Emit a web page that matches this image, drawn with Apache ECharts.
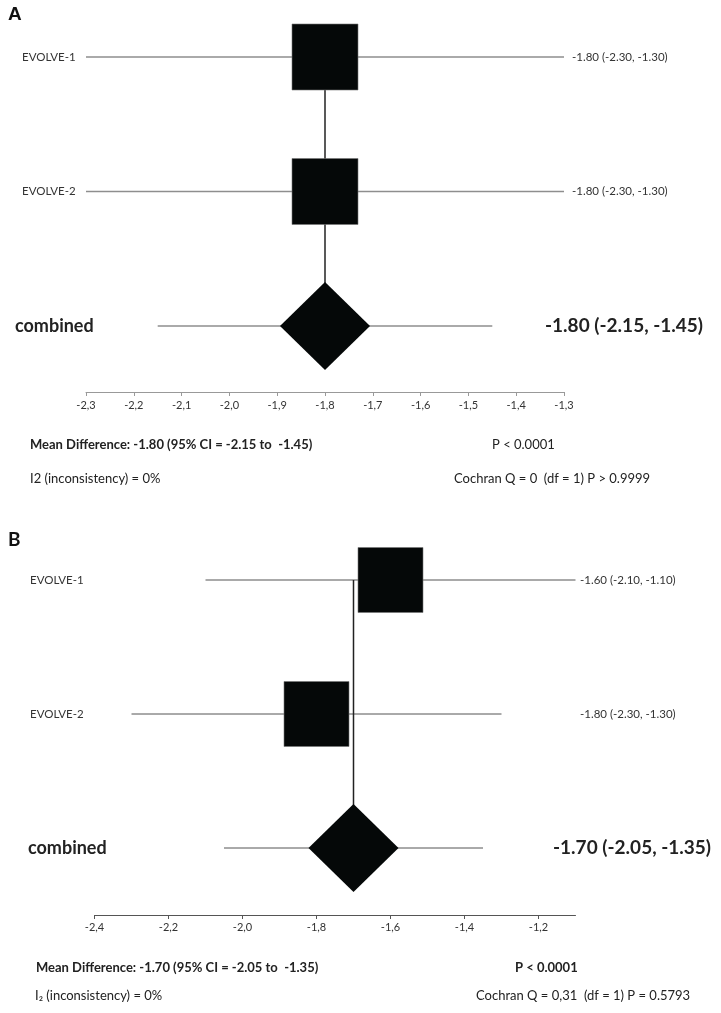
<!DOCTYPE html>
<html><head><meta charset="utf-8">
<script src="https://cdn.jsdelivr.net/npm/echarts@6/dist/echarts.min.js"></script>
<style>html,body{margin:0;padding:0;background:#fff}#c{width:721px;height:1013px}</style>
</head><body><div id="c"></div>
<script>
// ---- data ----
const studies = ['EVOLVE-1', 'EVOLVE-2', 'combined'];
const estA  = [-1.80, -1.80, -1.80];
const lowA  = [-2.30, -2.30, -2.15];
const highA = [-1.30, -1.30, -1.45];
const estB  = [-1.60, -1.80, -1.70];
const lowB  = [-2.10, -2.30, -2.05];
const highB = [-1.10, -1.30, -1.35];
const ticksA = [-2.3, -2.2, -2.1, -2.0, -1.9, -1.8, -1.7, -1.6, -1.5, -1.4, -1.3];
const ticksB = [-2.4, -2.2, -2.0, -1.8, -1.6, -1.4, -1.2];
const footA = ['Mean Difference: -1.80 (95% CI = -2.15 to  -1.45)', 'P < 0.0001', 'I2 (inconsistency) = 0%', 'Cochran Q = 0  (df = 1) P > 0.9999'];
const footB = ['Mean Difference: -1.70 (95% CI = -2.05 to  -1.35)', 'P < 0.0001', 'I\u2082 (inconsistency) = 0%', 'Cochran Q = 0,31  (df = 1) P = 0.5793'];

const FONT = 'Lato, "Open Sans", sans-serif';
const fmt = v => v.toFixed(2);
const tickFmt = v => v.toFixed(1).replace('.', ',');

function rowsSeries(idx, est, low, high, st) {
  return {
    type: 'custom', xAxisIndex: idx, yAxisIndex: idx, z: 1, clip: false, silent: true,
    data: studies.map((s, i) => [i, est[i], low[i], high[i]]),
    encode: { x: [1, 2, 3], y: 0 },
    renderItem(params, api) {
      const i = api.value(0);
      const p1 = api.coord([api.value(2), i]);
      const p2 = api.coord([api.value(3), i]);
      const comb = i === studies.length - 1;
      const label = fmt(api.value(1)) + ' (' + fmt(api.value(2)) + ', ' + fmt(api.value(3)) + ')';
      return {
        type: 'group',
        children: [
          { type: 'line', shape: { x1: p1[0], y1: p1[1], x2: p2[0], y2: p2[1] },
            style: { stroke: st.ci, lineWidth: st.ciW } },
          { type: 'text', x: comb ? st.combX : st.nameX, y: p1[1],
            style: { text: studies[i], fill: comb ? '#222' : '#333', verticalAlign: 'middle', align: 'left',
                     font: (comb ? 'bold 18px ' : '11.5px ') + FONT } },
          { type: 'text', x: comb ? st.combRX : st.rightX, y: p1[1],
            style: { text: label, fill: comb ? '#222' : '#333', verticalAlign: 'middle', align: 'left',
                     font: (comb ? 'bold 19px ' : '11.5px ') + FONT } }
        ]
      };
    }
  };
}

function markSeries(idx, est, sq) {
  const n = studies.length - 1;
  return [
    { type: 'line', xAxisIndex: idx, yAxisIndex: idx, z: 2, silent: true, showSymbol: false,
      data: [[est[n], 0], [est[n], n]], lineStyle: { color: '#222', width: 1.5 } },
    { type: 'scatter', xAxisIndex: idx, yAxisIndex: idx, z: 3, silent: true, symbol: 'rect', symbolSize: sq,
      data: est.slice(0, n).map((v, i) => [v, i]),
      itemStyle: { color: '#050808', opacity: 1, borderColor: '#777', borderWidth: 0.6 } },
    { type: 'scatter', xAxisIndex: idx, yAxisIndex: idx, z: 3, silent: true, symbol: 'diamond', symbolSize: [90, 88],
      data: [[est[n], n]], itemStyle: { color: '#050808', opacity: 1 } }
  ];
}

function xAx(idx, min, max, ticks, off, col, margin) {
  return {
    type: 'value', gridIndex: idx, min, max, offset: off,
    axisLine: { show: true, onZero: false, lineStyle: { color: col, width: 1 } },
    axisTick: { show: true, length: 4, customValues: ticks, lineStyle: { color: col } },
    axisLabel: { customValues: ticks, formatter: tickFmt, fontSize: 11, color: '#333', fontFamily: FONT, margin },
    splitLine: { show: false }
  };
}
function yAx(idx) {
  return { type: 'value', gridIndex: idx, min: 0, max: studies.length - 1, inverse: true, show: false };
}

function txt(left, top, text, bold, size) {
  return { type: 'text', left, top, silent: true,
    style: { text, fill: '#222', font: (bold ? 'bold ' : '') + (size || 13) + 'px ' + FONT } };
}

const chart = echarts.init(document.getElementById('c'), null, { renderer: 'canvas' });
chart.setOption({
  animation: false,
  backgroundColor: '#fff',
  grid: [
    { left: 86, width: 478, top: 57, height: 269 },
    { left: 94.5, width: 481, top: 580, height: 268 }
  ],
  xAxis: [xAx(0, -2.3, -1.3, ticksA, 66, '#999', 8), xAx(1, -2.4, -1.1, ticksB, 67, '#555', 7)],
  yAxis: [yAx(0), yAx(1)],
  series: [
    rowsSeries(0, estA, lowA, highA, { ci: '#8e8e8e', ciW: 1.3, nameX: 22, combX: 15, rightX: 572, combRX: 545 }),
    ...markSeries(0, estA, 66),
    rowsSeries(1, estB, lowB, highB, { ci: '#555', ciW: 1, nameX: 30, combX: 28, rightX: 580, combRX: 553 }),
    ...markSeries(1, estB, 65)
  ],
  graphic: [
    { type: 'text', left: 8, top: 5, style: { text: 'A', fill: '#111', font: 'bold 19px "Liberation Sans", Arial, sans-serif' } },
    { type: 'text', left: 8, top: 530, style: { text: 'B', fill: '#111', font: 'bold 19px ' + FONT } },
    txt(30, 438, footA[0], true), txt(492, 438, footA[1], false),
    txt(30, 472, footA[2], false), txt(454, 472, footA[3], false),
    txt(36, 961, footB[0], true), txt(515, 961, footB[1], true),
    txt(35, 989, footB[2], false), txt(476, 989, footB[3], false)
  ]
});
</script></body></html>
